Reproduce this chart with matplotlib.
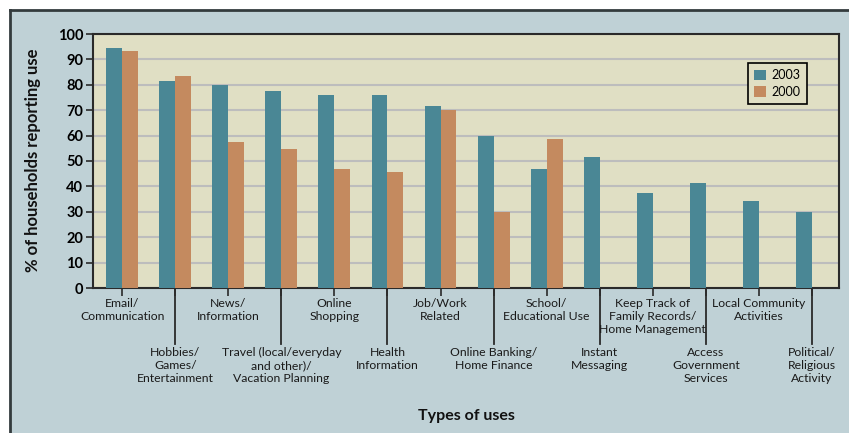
import matplotlib
matplotlib.use("Agg")
import matplotlib.pyplot as plt
import matplotlib.transforms as mtransforms
from matplotlib.patches import Rectangle, Patch
import numpy as np

plt.rcParams['font.family'] = ['Lato', 'DejaVu Sans']

categories = [
    "Email/\nCommunication",
    "Hobbies/\nGames/\nEntertainment",
    "News/\nInformation",
    "Travel (local/everyday\nand other)/\nVacation Planning",
    "Online\nShopping",
    "Health\nInformation",
    "Job/Work\nRelated",
    "Online Banking/\nHome Finance",
    "School/\nEducational Use",
    "Instant\nMessaging",
    "Keep Track of\nFamily Records/\nHome Management",
    "Access\nGovernment\nServices",
    "Local Community\nActivities",
    "Political/\nReligious\nActivity",
]
values_2003 = [94.6, 81.5, 80.0, 77.6, 76.0, 76.0, 71.7, 59.8, 46.8, 51.5, 37.3, 41.2, 34.1, 29.8]
values_2000 = [93.4, 83.5, 57.4, 54.7, 46.8, 45.6, 70.1, 29.8, 58.6, None, None, None, None, None]
y_ticks = [0, 10, 20, 30, 40, 50, 60, 70, 80, 90, 100]

W, H = 849, 433
teal = "#4a8795"
orange = "#c48a5f"
fig_bg = "#bfd1d6"
ax_bg = "#e0dfc4"
dark = "#2a2a2a"

fig = plt.figure(figsize=(W / 100, H / 100), dpi=100, facecolor="white")

# background panel with dark left/top border
fig.patches.append(Rectangle((10 / W, 0), 1 - 10 / W, 1 - 10 / H, transform=fig.transFigure,
                             facecolor=fig_bg, edgecolor="none", zorder=-10))
fig.add_artist(plt.Line2D([10 / W, 10 / W], [0, 1 - 10 / H], transform=fig.transFigure, color="#333b3d", lw=2, zorder=-5))
fig.add_artist(plt.Line2D([10 / W, 1], [1 - 10 / H, 1 - 10 / H], transform=fig.transFigure, color="#333b3d", lw=2, zorder=-5))

ax_l, ax_r, ax_t, ax_b = 93, 839, 34, 288
ax = fig.add_axes([ax_l / W, 1 - ax_b / H, (ax_r - ax_l) / W, (ax_b - ax_t) / H])
ax.set_facecolor(ax_bg)

x = np.arange(len(categories))
bw = 0.30
ax.bar(x - bw / 2, values_2003, width=bw, color=teal, zorder=3, label="2003")
idx2000 = [i for i, v in enumerate(values_2000) if v is not None]
ax.bar(x[idx2000] + bw / 2, [values_2000[i] for i in idx2000], width=bw, color=orange, zorder=3, label="2000")

ax.set_xlim(-0.55, len(categories) - 1 + 0.51)
ax.set_ylim(0, 100)
ax.set_yticks(y_ticks)
ax.set_yticklabels([str(t) for t in y_ticks], fontsize=10.5, fontweight="bold")
ax.yaxis.grid(True, color="#bdbdbd", lw=1.5, zorder=1)
ax.set_axisbelow(True)
ax.tick_params(axis="y", length=5, width=1.2, color=dark, pad=2)
ax.set_xticks(x)
ax.set_xticklabels([])
ax.tick_params(axis="x", length=6, width=1.2, color=dark)
for s in ax.spines.values():
    s.set_color(dark)
    s.set_linewidth(1.5)

trans = mtransforms.blended_transform_factory(ax.transData, fig.transFigure)
long_bottom = 1 - 344 / H
for i, lab in enumerate(categories):
    if i % 2 == 1:
        ax.plot([i, i], [1 - ax_b / H, long_bottom], transform=trans, color=dark, lw=1.3, clip_on=False)
        ytop = 1 - 347 / H
    else:
        ytop = 1 - 298 / H
    ax.text(i, ytop, lab, transform=trans, ha="center", va="top", fontsize=8.8,
            linespacing=1.22, color="#1a1a1a")

fig.text(33 / W, 1 - 160 / H, "% of households reporting use", rotation=90, ha="center", va="center",
         fontsize=12, fontweight="bold", color="#111111")
fig.text(466 / W, 1 - 416 / H, "Types of uses", ha="center", va="center",
         fontsize=11.5, fontweight="bold", color="#111111")

handles = [Patch(facecolor=teal, label="2003"), Patch(facecolor=orange, label="2000")]
leg = ax.legend(handles=handles, loc="upper left",
                bbox_to_anchor=((748 - ax_l) / (ax_r - ax_l), 1 - (63 - ax_t) / (ax_b - ax_t)),
                fontsize=9, frameon=True, fancybox=False, borderpad=0.5, handlelength=0.9,
                handleheight=0.9, handletextpad=0.5, labelspacing=0.35, borderaxespad=0)
leg.get_frame().set_edgecolor("black")
leg.get_frame().set_linewidth(1.2)
leg.get_frame().set_facecolor(ax_bg)
leg.get_frame().set_alpha(1)

fig.savefig("out.png", dpi=100, facecolor="white")
